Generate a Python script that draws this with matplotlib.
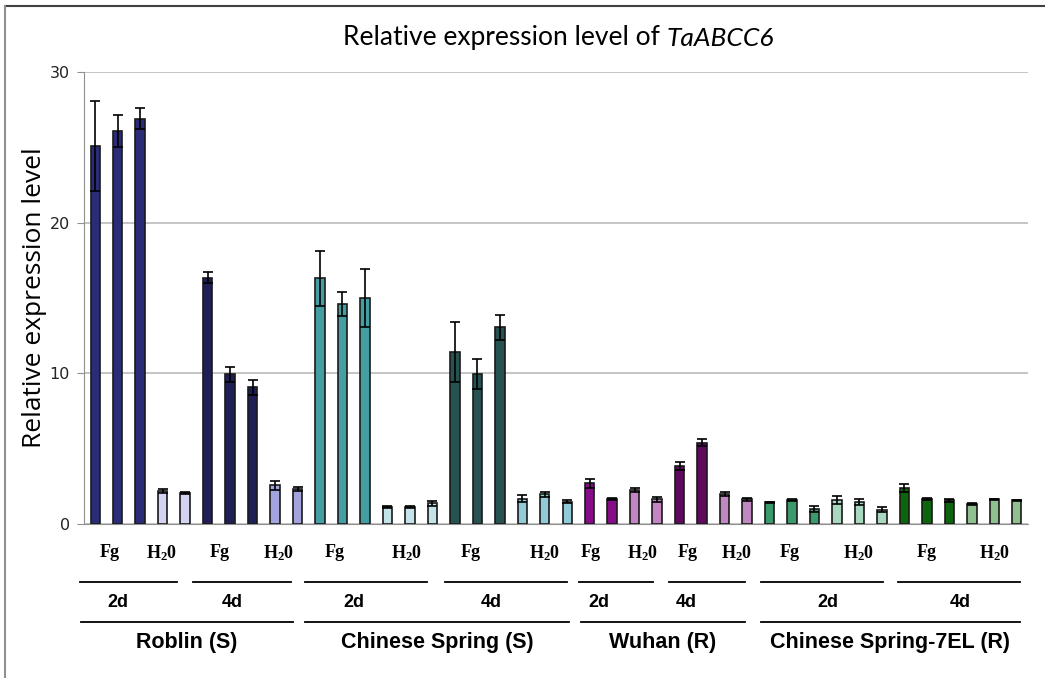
import numpy as np
import matplotlib.pyplot as plt
import matplotlib.transforms as mtransforms
from matplotlib.lines import Line2D

plt.rcParams['mathtext.default'] = 'regular'

# relative expression, one bar per sample (Fg then H2O within each day)
values = [25.1, 26.1, 26.9, 2.17, 2.04,
          16.35, 9.95, 9.07, 2.57, 2.34,
          16.3, 14.6, 15.0, 1.15, 1.15, 1.37,
          11.4, 9.95, 13.05, 1.68, 1.97, 1.47,
          2.69, 1.67, 2.27, 1.63,
          3.85, 5.39, 2.02, 1.63,
          1.43, 1.58, 1.0, 1.6, 1.49, 0.96,
          2.38, 1.67, 1.56, 1.32, 1.64, 1.57]
errors = [3.0, 1.05, 0.7, 0.12, 0.08,
          0.37, 0.5, 0.5, 0.3, 0.14,
          1.8, 0.8, 1.95, 0.07, 0.07, 0.17,
          2.0, 1.0, 0.85, 0.24, 0.18, 0.1,
          0.28, 0.08, 0.13, 0.15,
          0.28, 0.22, 0.13, 0.1,
          0.05, 0.08, 0.18, 0.24, 0.2, 0.18,
          0.27, 0.05, 0.07, 0.05, 0.05, 0.05]
colors = (['#2a2c78'] * 3 + ['#d3d4f2'] * 2 +
          ['#1f1f56'] * 3 + ['#a3a3de'] * 2 +
          ['#459ea2'] * 3 + ['#c2e4e8'] * 3 +
          ['#265351'] * 3 + ['#91cbd5'] * 3 +
          ['#870c87'] * 2 + ['#c485c4'] * 2 +
          ['#5e0a5e'] * 2 + ['#c088c0'] * 2 +
          ['#3b9a6c'] * 3 + ['#a8d8bf'] * 3 +
          ['#0c650c'] * 3 + ['#90bf90'] * 3)

# treatment labels: (text, x position in bar units)
treat_labels = ['Fg', 'H$_2$0'] * 8
treat_x = [0.66, 2.97, 5.55, 8.17, 10.67, 13.87, 16.72, 20.0,
           22.05, 24.37, 26.37, 28.55, 30.9, 33.97, 37.0, 40.02]
# time-point groups
day_labels = ['2d', '4d'] * 4
day_spans = [(-0.68, 3.64), (4.35, 8.71), (9.33, 14.76), (15.56, 20.99),
             (21.52, 24.81), (25.52, 28.9), (29.62, 35.04), (35.71, 41.14)]
day_x = [1.0, 6.1, 11.5, 17.6, 22.4, 26.3, 32.6, 38.5]
# cultivars
cultivars = ['Roblin (S)', 'Chinese Spring (S)', 'Wuhan (R)', 'Chinese Spring-7EL (R)']
cultivar_spans = [(-0.63, 8.8), (9.33, 21.07), (21.61, 28.9), (29.62, 41.14)]

fig = plt.figure(figsize=(10.45, 6.78), dpi=100)
ax = fig.add_axes([84 / 1045, 1 - 524 / 678, 944 / 1045, 452 / 678])

x = np.arange(len(values))
ax.bar(x, values, width=0.42, color=colors, edgecolor='#1a1a1a', linewidth=1.2, zorder=3)
ax.errorbar(x, values, yerr=errors, fmt='none', ecolor='black', elinewidth=1.2,
            capsize=3.5, capthick=1.2, zorder=4)

ax.set_xlim(-0.5, len(values) - 0.5)
ax.set_ylim(0, 30)
ax.set_yticks([0, 10, 20, 30])
ax.set_xticks([])
ax.yaxis.grid(True, color='#c0c0c0', linewidth=1.3, zorder=0)
ax.set_axisbelow(True)
for side in ['top', 'right']:
    ax.spines[side].set_visible(False)
ax.spines['left'].set_color('#909090')
ax.spines['bottom'].set_color('#909090')
ax.tick_params(axis='y', direction='out', length=5, color='#909090',
               labelsize=11.5, labelcolor='#222222', pad=5)

ax.set_ylabel('Relative expression level', fontsize=19, family='Open Sans')
ax.yaxis.set_label_coords(-0.052, 0.5)
ax.yaxis.label.set_va('center')

# title: plain part plus the gene name in italics
t1 = fig.text(667 / 1045, 1 - 38 / 678, 'Relative expression level of ', ha='right',
              va='center', fontsize=19, family='Lato')
ax.annotate('TaABCC6', xy=(1, 0), xycoords=t1, va='bottom', ha='left',
            fontsize=19, family='Lato', style='italic', annotation_clip=False)

trans = mtransforms.blended_transform_factory(ax.transData, ax.transAxes)
for lab, xp in zip(treat_labels, treat_x):
    ax.text(xp, -0.064, lab, transform=trans, ha='center', va='center',
            fontsize=13, family='Liberation Serif', fontweight='bold', clip_on=False)
for (a, b), lab, xp in zip(day_spans, day_labels, day_x):
    ax.add_line(Line2D([a, b], [-0.128, -0.128], transform=trans, color='black',
                       linewidth=1.3, clip_on=False))
    ax.text(xp, -0.173, lab, transform=trans, ha='center', va='center', fontsize=13,
            family='Liberation Sans', fontweight='bold', clip_on=False)
for (a, b), lab in zip(cultivar_spans, cultivars):
    ax.add_line(Line2D([a, b], [-0.217, -0.217], transform=trans, color='black',
                       linewidth=1.3, clip_on=False))
    ax.text((a + b) / 2, -0.263, lab, transform=trans, ha='center', va='center',
            fontsize=15.5, family='Liberation Sans', fontweight='bold', clip_on=False)

# outer frame (top and left edges only)
fig.add_artist(Line2D([5 / 1045, 1], [1 - 6 / 678, 1 - 6 / 678], transform=fig.transFigure,
                      color='#404040', linewidth=1.5))
fig.add_artist(Line2D([5 / 1045, 5 / 1045], [0, 1 - 6 / 678], transform=fig.transFigure,
                      color='#909090', linewidth=1.5))

fig.savefig('out.png', dpi=100)
